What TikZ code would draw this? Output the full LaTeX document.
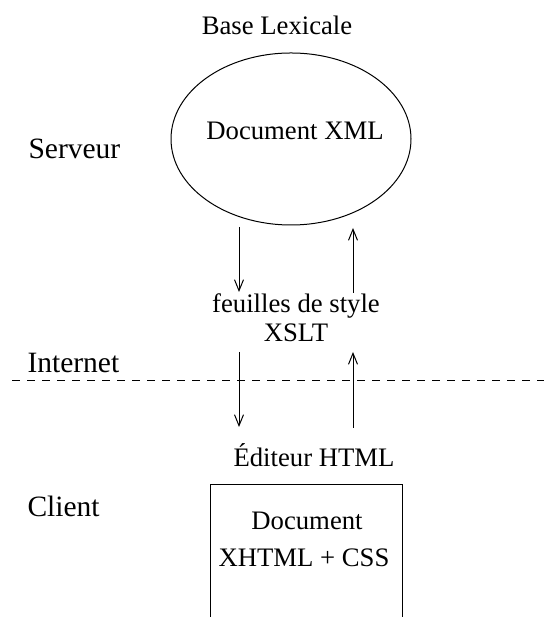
\documentclass[tikz,border=0pt]{standalone}
\usepackage{fontspec}
\setmainfont{Liberation Serif}
\usetikzlibrary{arrows.meta,shapes.geometric}
\begin{document}
\begin{tikzpicture}[x=1pt,y=1pt,
  txt/.style={inner sep=0pt,anchor=base,font=\fontsize{26.7}{30}\selectfont},
  side/.style={inner sep=0pt,anchor=base west,font=\fontsize{29.5}{33}\selectfont},
  flow/.style={line width=1pt,-{Straight Barb[length=11pt,width=9pt]}},
  line width=1pt]
\useasboundingbox (0,0) rectangle (544,617);
% labels
\node[txt] (base) at (277,582) {Base Lexicale};
\node[draw,ellipse,line width=1pt,minimum width=240pt,minimum height=172pt,inner sep=0pt] (ell) at (291,478) {};
\node[txt] (docxml) at (295,477) {Document XML};
\node[side] (serveur) at (28,458) {Serveur};
\node[side] (internet) at (27,244) {Internet};
\node[side] (client) at (27,100) {Client};
\node[txt] (xslt1) at (296,304) {feuilles de style};
\node[txt] (xslt2) at (296,275) {XSLT};
\node[txt] (editeur) at (314,150) {Éditeur HTML};
% rectangle (open at the bottom)
\coordinate (rbl) at (210,0);
\coordinate (rtl) at (210,132);
\coordinate (rtr) at (402,132);
\coordinate (rbr) at (402,0);
\draw (rbl) -- (rtl) -- (rtr) -- (rbr);
\node[txt] (doc2) at (307,87) {Document};
\node[txt] (doc3) at (304,50) {XHTML + CSS};
% dashed line
\coordinate (dl) at (12,237);
\coordinate (dr) at (544,237);
\draw[line width=0.8pt,dash pattern=on 8pt off 7pt] (dl) -- (dr);
% arrows
\coordinate (a1s) at (239,390);
\coordinate (a1e) at (239,325);
\coordinate (a2s) at (353,324);
\coordinate (a2e) at (353,389);
\coordinate (a3s) at (239,265);
\coordinate (a3e) at (239,190);
\coordinate (a4s) at (353,189);
\coordinate (a4e) at (353,265);
\draw[flow] (a1s) -- (a1e);
\draw[flow] (a2s) -- (a2e);
\draw[flow] (a3s) -- (a3e);
\draw[flow] (a4s) -- (a4e);
\end{tikzpicture}
\end{document}
